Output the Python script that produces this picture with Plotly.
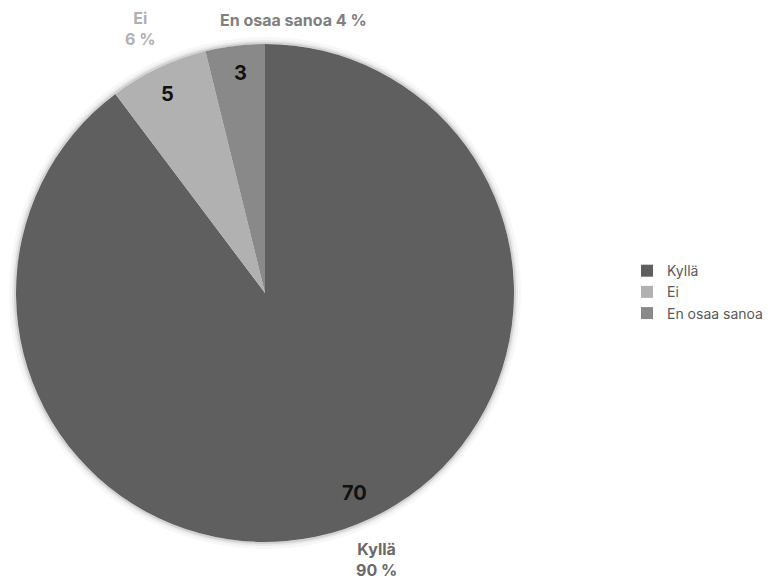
import math
import plotly.graph_objects as go

labels = ["Kyllä", "Ei", "En osaa sanoa"]
values = [70, 5, 3]
label_text = ["Kyllä<br>%d %%", "Ei<br>%d %%", "En osaa sanoa %d %%"]
colors = ["#5f5f5f", "#b1b1b1", "#898989"]
label_colors = ["#6a6a6a", "#b0b0b0", "#808080"]
# style: label radial distance (fraction of radius) and nudges (px)
label_radius = [1.13, 1.175, 1.105]
label_nudge_x = [22, 0, 62]
value_nudge = [(20, -9), (-3, 0), (2, -1)]

W, H = 777, 583
cx, cy, r = 265, 293, 249

total = sum(values)
pcts = [round(v / total * 100) for v in values]

fig = go.Figure()

# soft shadow rings around the pie
for w, a in [(2, 0.10), (4, 0.05), (7, 0.03)]:
    rr = r + w / 2
    fig.add_shape(type="circle", xref="paper", yref="paper",
                  x0=(cx - rr) / W, x1=(cx + rr) / W,
                  y0=(H - cy - rr) / H, y1=(H - cy + rr) / H,
                  line=dict(color="rgba(0,0,0,%.2f)" % a, width=w),
                  layer="below")

fig.add_trace(go.Pie(
    labels=labels, values=values, sort=False, direction="clockwise",
    rotation=0, marker=dict(colors=colors, line=dict(width=0)),
    textinfo="none", hoverinfo="label+value+percent",
    domain=dict(x=[(cx - r) / W, (cx + r) / W], y=[(H - cy - r) / H, (H - cy + r) / H]),
))

cum = 0
for i, v in enumerate(values):
    start = cum / total * 360
    cum += v
    end = cum / total * 360
    mid = math.radians((start + end) / 2)
    # value label inside
    d = 0.885 * r
    x = cx + d * math.sin(mid) + value_nudge[i][0]
    y = cy - d * math.cos(mid) + value_nudge[i][1]
    fig.add_annotation(x=x / W, y=(H - y) / H, xref="paper", yref="paper",
                       text="<b>%d</b>" % v, showarrow=False,
                       font=dict(family="Inter, Roboto, sans-serif", size=20, color="#111111"),
                       xanchor="center", yanchor="middle")
    # category label outside
    d = label_radius[i] * r
    x = cx + d * math.sin(mid) + label_nudge_x[i]
    y = cy - d * math.cos(mid)
    fig.add_annotation(x=x / W, y=(H - y) / H, xref="paper", yref="paper",
                       text="<b>" + (label_text[i] % pcts[i]) + "</b>", showarrow=False,
                       font=dict(family="Inter, Roboto, sans-serif", size=16, color=label_colors[i]),
                       xanchor="center", yanchor="middle", align="center")

fig.update_layout(
    width=W, height=H, margin=dict(l=0, r=0, t=0, b=0),
    paper_bgcolor="white", plot_bgcolor="white",
    showlegend=True,
    legend=dict(x=627 / W, y=0.499, xanchor="left", yanchor="middle",
                font=dict(family="Inter, Roboto, sans-serif", size=14, color="#595959"),
                itemwidth=30),
)

fig.write_html("out.html")
